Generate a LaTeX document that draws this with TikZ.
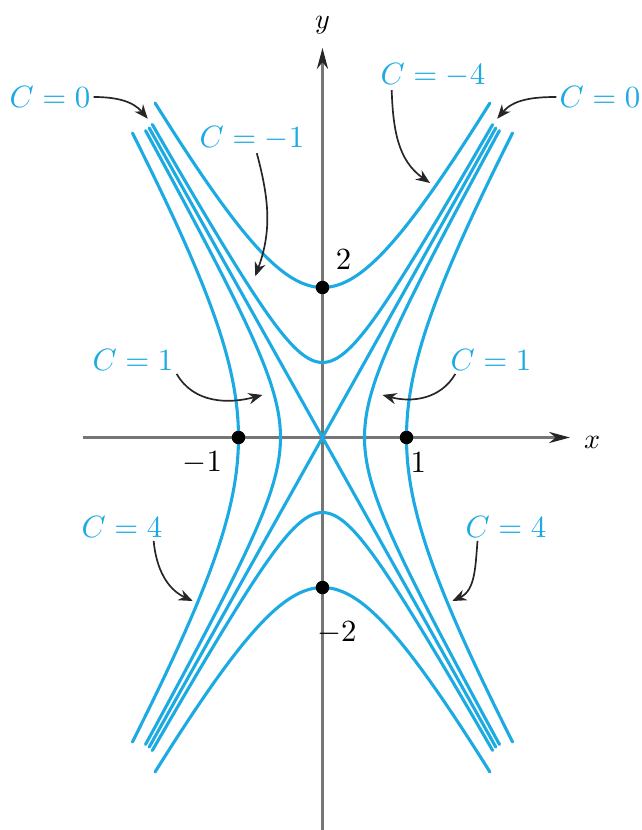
\documentclass[tikz,border=0pt]{standalone}
\usepackage{tikz}
\usetikzlibrary{arrows.meta}
\definecolor{levelBlue}{RGB}{28,170,226}
\definecolor{axisGray}{RGB}{118,118,118}

\begin{document}
\begin{tikzpicture}[x=1.05cm,y=0.9375cm,
    crv/.style={levelBlue,line width=1.1pt,line cap=round},
    ax/.style={axisGray,line width=0.8pt,-{Stealth[length=7.5pt,width=4pt,black!85]}},
    arr/.style={black!85,line width=0.6pt,-{Stealth[length=5pt,width=4pt]}},
    lbl/.style={levelBlue,inner sep=1pt,font=\fontsize{11}{13}\selectfont},
    tck/.style={inner sep=1pt,font=\fontsize{11}{13}\selectfont},
    dot/.style={circle,fill=black,inner sep=0pt,minimum size=4.8pt}
  ]
  \useasboundingbox (-3.839,-5.233) rectangle (3.792,5.833);
  % Axes
  \coordinate (xmin) at (-2.85,0);
  \coordinate (xmax) at (2.946,0);
  \coordinate (ymin) at (0,-5.233);
  \coordinate (ymax) at (0,5.193);
  \draw[ax] (xmin) -- (xmax);
  \draw[ax] (ymin) -- (ymax);
  \node (xl) at (3.21,-0.06) {$x$};
  \node (yl) at (0,5.5) {$y$};
  % Level curves C<0 (open up and down)
  \foreach \c/\xe in {4/1.993,1/2.026}{
    \draw[crv] plot[domain=-\xe:\xe,samples=60,smooth] (\x,{sqrt(4*\x*\x+\c)});
    \draw[crv] plot[domain=-\xe:\xe,samples=60,smooth] (\x,{-sqrt(4*\x*\x+\c)});
  }
  % Level curves C>0 (open left and right)
  \foreach \c/\ye in {1/4.093,4/4.06}{
    \draw[crv] plot[domain=-\ye:\ye,samples=60,smooth] ({sqrt((\c+\x*\x)/4)},\x);
    \draw[crv] plot[domain=-\ye:\ye,samples=60,smooth] ({-sqrt((\c+\x*\x)/4)},\x);
  }
  % C=0
  \draw[crv] (-2.063,4.127) -- (2.063,-4.127);
  \draw[crv] (2.063,4.127) -- (-2.063,-4.127);
  % Points and ticks
  \node[dot] (p2) at (0,2) {};
  \node[dot] (pm2) at (0,-2) {};
  \node[dot] (pm1) at (-1,0) {};
  \node[dot] (p1) at (1,0) {};
  \node[tck] (n2) at (0.25,2.37) {$2$};
  \node[tck] (nm2) at (0.17,-2.6) {$-2$};
  \node[tck] (nm1) at (-1.43,-0.34) {$-1$};
  \node[tck] (n1) at (1.14,-0.34) {$1$};
  % Labels
  \node[lbl] (l0L) at (-3.244,4.54) {$C=0$};
  \node[lbl] (l0R) at (3.304,4.54) {$C=0$};
  \node[lbl] (lm4) at (1.315,4.833) {$C=-4$};
  \node[lbl] (lm1) at (-0.839,3.993) {$C=-1$};
  \node[lbl] (l1L) at (-2.256,1.033) {$C=1$};
  \node[lbl] (l1R) at (2.006,1.033) {$C=1$};
  \node[lbl] (l4L) at (-2.387,-1.193) {$C=4$};
  \node[lbl] (l4R) at (2.185,-1.193) {$C=4$};
  % Arrow targets
  \coordinate (t0L) at (-2.08,4.25);
  \coordinate (t0R) at (2.08,4.25);
  \coordinate (tm4) at (1.28,3.393);
  \coordinate (tm1) at (-0.80,2.15);
  \coordinate (t1L) at (-0.714,0.567);
  \coordinate (t1R) at (0.714,0.567);
  \coordinate (t4L) at (-1.545,-2.18);
  \coordinate (t4R) at (1.545,-2.18);
  % Arrows
  \draw[arr] (l0L.east) to[out=0,in=130] (t0L);
  \draw[arr] (l0R.west) to[out=180,in=50] (t0R);
  \draw[arr] ([xshift=1.8mm]lm4.south west) to[out=-88,in=145] (tm4);
  \draw[arr] ([xshift=0.6mm]lm1.south) to[out=-75,in=70] (tm1);
  \draw[arr] (l1L.south east) to[out=-60,in=195] (t1L);
  \draw[arr] ([xshift=1mm]l1R.south west) to[out=-120,in=-15] (t1R);
  \draw[arr] ([xshift=-1.5mm]l4L.south east) to[out=-85,in=155] (t4L);
  \draw[arr] ([xshift=1.9mm]l4R.south west) to[out=-95,in=25] (t4R);
\end{tikzpicture}
\end{document}
